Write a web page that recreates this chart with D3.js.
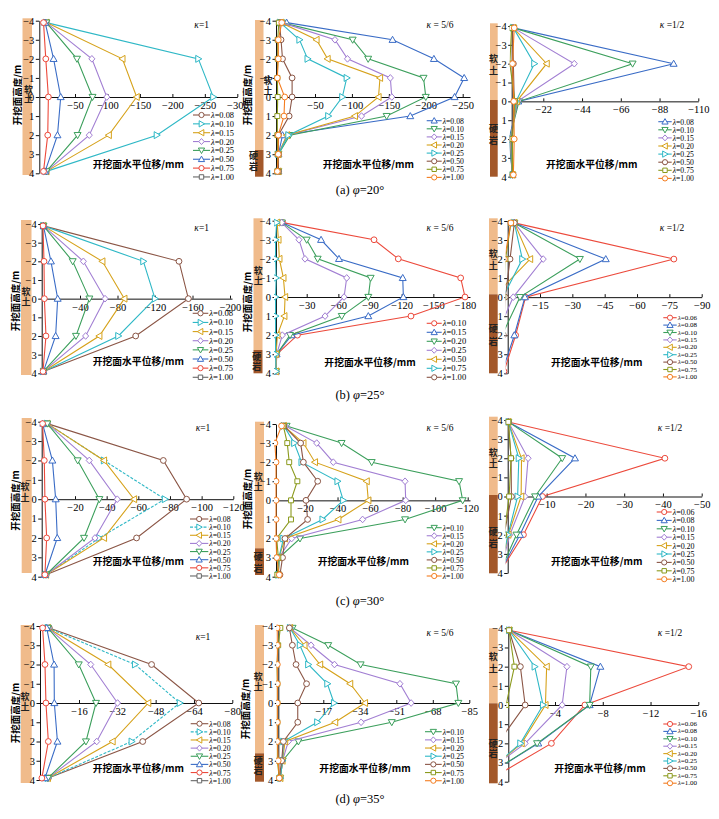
<!DOCTYPE html>
<html><head><meta charset="utf-8">
<script src="https://cdn.jsdelivr.net/npm/d3@7"></script>
<style>body{margin:0;background:#fff}</style>
</head><body><svg id="c" width="719" height="819"></svg>
<script>
// ---------- data ----------
const depth5 = [-3.9, -2, 0, 2, 3.9];
const depth9 = [-3.9, -3, -2, -1, 0, 1, 2, 3, 3.9];

const lamK1 = ["0.08","0.10","0.15","0.20","0.25","0.50","0.75","1.00"];
const lamA  = ["0.08","0.10","0.15","0.20","0.25","0.50","0.75","1.00"];
const lamB  = ["0.10","0.15","0.20","0.25","0.50","0.75","1.00"];
const lamC  = ["0.06","0.08","0.10","0.15","0.20","0.25","0.50","0.75","1.00"];

const xTicks20k1 = [-50,-100,-150,-200,-250,-300];
const xTicks20k56 = [-50,-100,-150,-200,-250];
const xTicks20k12 = [-22,-44,-66,-88,-110];
const xTicks25k1 = [-40,-80,-120,-160,-200];
const xTicks25k56 = [-30,-60,-90,-120,-150,-180];
const xTicks25k12 = [-15,-30,-45,-60,-75,-90];
const xTicks30k1 = [-20,-40,-60,-80,-100,-120];
const xTicks30k56 = [-20,-40,-60,-80,-100,-120];
const xTicks30k12 = [-10,-20,-30,-40,-50];
const xTicks35k1 = [-16,-32,-48,-64,-80];
const xTicks35k56 = [-17,-34,-51,-68,-85];
const xTicks35k12 = [-4,-8,-12,-16];

// φ=20°
const phi20k1 = [null,
  [-6,-240,-263,-176,-6],
  [-6,-123,-145,-102,-6],
  [-6,-76,-99,-72,-6],
  [-6,-53,-77,-54,-6],
  [-4,-17,-28,-23,-4],
  [-1.5,-5,-9,-8,-1.5],
  null];
const phi20k56 = [
  [-11.6,-155,-211,-252,-239,-179,-6,-0.5,-0.5],
  [-5,-101,-122,-197,-200,-147,-16,-0.5,-0.5],
  [-5,-77,-94,-152,-154,-113,-12,-0.5,-0.5],
  [-3.5,-52,-67,-138,-136,-104,-12,-0.5,-0.5],
  [-3,-29,-40,-93,-87,-68,-14,-0.5,-0.5],
  [-2,-4,-6,-19,-19,-15,-0.5,-0.5,-0.5],
  [-1,0.5,0.5,1,0.5,1,1,0.5,1],
  [-5,-0.3,-0.3,1,-9,-8,-0.3,-0.3,1]];
const phi20k12 = [
  [-5,-96,-7.8,-2.5,-4.5],
  [-5,-72.7,-8.2,-2.8,-4.5],
  [-5,-39.6,-7.4,-3.2,-4.5],
  [-5,-23.9,-6.9,-3.5,-4.5],
  [-5,-16.9,-6.5,-3.8,-4.5],
  [-4.5,-5,-5.5,-4.2,-4.5],
  [-4,-3,-5.9,-4.5,-4.5],
  [-5.5,-4.5,-5.2,-5.5,-5]];
// φ=25°
const phi25k1 = [
  [-1,-145.6,-155.6,-99.4,-1],
  [-1,-107.6,-120,-80.9,-1],
  [-1,-63.8,-87.3,-60.6,-1],
  [-1,-43.6,-66.7,-46,-1],
  [-1,-32.2,-50,-35.7,-1],
  [-1,-9,-16.2,-14,-1],
  [-0.5,-1.6,-2,-3.7,-0.5],
  null];
const phi25k56 = [
  [-7.3,-93.8,-116.8,-175.9,-180,-128.8,-21.2,-1.6,-1],
  [-6.5,-43.6,-60.6,-121,-121.6,-88.4,-15.8,-1.5,-1],
  [-6.5,-30,-40.4,-90.6,-88.4,-63.2,-14.2,-1.5,-1],
  [-6.3,-22.7,-28.4,-67.9,-65.4,-47.4,-6.9,-1.5,-1],
  [-2,-3.2,-4.1,-7.9,-9.5,-8.8,-2.2,-1,-1],
  [-1.5,-0.5,-0.5,-1,-0.5,-0.5,-0.5,-0.5,-1],
  null];
const phi25k12 = [
  [-3.1,-77.1,-8.3,-3.7,1.7],
  [-3.1,-45.5,-8,-3.1,2.5],
  [-3.1,-33.5,-5.7,2.6,5],
  [-3.1,-16.5,-2.6,5.3,8],
  [-3.1,-10.4,6.6,8,9],
  [-3.1,-6.8,2.2,4,5],
  [-3.1,-1.1,1.1,2,3],
  [-1.5,1,2,3,3],
  [-1.5,1.5,2.5,3,3]];
// φ=30°
const phi30k1 = [
  [-2.5,-75.8,-90.5,-58.9,-1.7],
  [-2.5,-38.3,-76.8,-35.4,-1.7],
  [-2.5,-38.3,-57.3,-38.3,-1.7],
  [-2.5,-29,-46.7,-32.6,-1.7],
  [-2.5,-21.7,-35.4,-25.7,-1.7],
  [0.5,-5.7,-7.8,-8.8,-1],
  [0.5,-0.6,-1,-2.1,-1],
  null];
const phi30k56 = [
  [-8.7,-42.5,-61,-114.7,-116.9,-81.5,-16.9,-4.2,-3.6],
  [-8,-27.2,-37.4,-81.5,-81.9,-55.4,-11.8,-4,-3.6],
  [-7,-19,-26.1,-57.9,-58.9,-40.5,-7.7,-4,-3.6],
  [-7,-13.4,-17.9,-40,-43.5,-30.8,-6.7,-4,-3.6],
  [-7,-17.3,-19,-27.8,-20.6,-21.6,-7.7,-6.2,-4.6],
  [-6.7,-9.1,-10.3,-15.3,-11.4,-11.4,-2.6,-3.6,-3],
  [-5.6,-1.5,-2.2,-2.2,-2.2,-2.2,-2.2,-2.6,-4.2]];
const phi30k12 = [
  [-0.1,-40.5,-8.9,-4,1.9],
  [-0.1,-17.3,-7.8,-3.1,1.9],
  [-0.1,-14,-7,-2.2,2],
  [-0.1,-5.2,-4.4,-0.5,2],
  [-0.1,-3.5,-3.4,-0.1,2],
  [-0.1,-2.8,-2.5,0,2],
  [-0.1,-0.8,-0.9,1,2],
  [-0.1,-0.8,-0.3,1,2],
  null];
// φ=35°
const phi35k1 = [
  [-3.6,-46.3,-66,-42.6,-3.2],
  [-3,-39.4,-58.1,-38,-3],
  [-3,-28.2,-44.9,-30,-3],
  [-3,-20.9,-32.1,-23.4,-3],
  [-3,-15.9,-23.1,-18.9,-3],
  [-2.5,-5.6,-5.7,-7,-1.8],
  [-0.8,-1.8,-2.2,-3.2,-0.5],
  null];
const phi35k56 = [
  [-2.7,-19.3,-34.4,-78.8,-79.9,-48.9,-5.4,1.9,3.1],
  [-1.5,-11.3,-22.2,-52.7,-57.9,-34.6,-0.7,2,3],
  [-1.5,-8.2,-15.5,-29.5,-36.4,-22.5,0.8,2,3],
  [-1.5,-6.1,-10,-18.9,-22,-14.2,1.6,2,3],
  [-1.2,-2.6,-4.3,-9.2,-5.1,-5.1,1.6,2.4,3.5],
  [3,4,4.7,4.4,4.4,4.4,4.4,4.4,3.5],
  [4.5,4.4,4.4,4.4,4.4,4.4,4.4,4,3.5]];
const phi35k12 = [
  [-0.15,-15.2,-6.5,-3.7,1.5],
  [-0.15,-7.8,-6.9,-2.6,2.3],
  [-0.15,-7,-6.9,-2.5,2.3],
  [-0.15,-5,-4.6,-1.5,2.6],
  [-0.15,-3.3,-3.2,-1.2,2.4],
  [-0.15,-2.3,-3,-1.1,2.4],
  [-0.15,-1.1,-1.5,0.8,1.5],
  [-0.15,-0.6,0.1,0.8,1],
  null];

const captions = [["(a) ","20°"],["(b) ","25°"],["(c) ","30°"],["(d) ","35°"]];

// ---------- styles ----------
const C = {brown:"#8b5646", cyan:"#2fb8c6", gold:"#d6a21b", purple:"#a27fd3", green:"#3c9f5c",
           blue:"#3a6cc6", red:"#ec4a3c", gray:"#666666", olive:"#8b9a1d", orange:"#f47d20"};
const styK1 = [["brown","circle"],["cyan","right"],["gold","left"],["purple","diamond"],["green","down"],["blue","up"],["red","circle"],["gray","square"]];
const styA  = [["blue","up"],["green","down"],["purple","diamond"],["gold","left"],["cyan","right"],["brown","circle"],["olive","square"],["orange","circle"]];
const styB1 = [["red","circle"],["blue","up"],["green","down"],["purple","diamond"],["gold","left"],["cyan","right"],["brown","circle"]];
const styB2 = [["green","down"],["purple","diamond"],["gold","left"],["cyan","right"],["brown","circle"],["olive","square"],["orange","circle"]];
const styC  = [["red","circle"],["blue","up"],["green","down"],["purple","diamond"],["gold","left"],["cyan","right"],["brown","circle"],["olive","square"],["orange","circle"]];

const TAN = "#f0bb8b", ROCK = "#a3582a";
const SERIF = "'Liberation Serif','Times New Roman',serif";
const CJK = "'Noto Sans CJK SC','Noto Sans',sans-serif";

const panels = [
 {vals:phi20k1, lam:lamK1, sty:styK1, depth:depth5, ax:39.3, xa:[-50,75], xb:[-300,237.3], xe:237.3, ticks:xTicks20k1, yA:20.7, yB:173.3,
  bar:[22.5,9.5,18.3,null,175], kap:"=1", kx:201.7, ky:25, leg:[193,115,8.85,17], xt:[138.3,164], yt:[16.7,95], soft:[28.5,89,98.5], hard:null},
 {vals:phi20k56, lam:lamA, sty:styA, depth:depth9, ax:276, xa:[-50,315], xb:[-250,462.7], xe:470, ticks:xTicks20k56, yA:20.7, yB:173.3,
  bar:[255,8.5,20,150,176.7], kap:" = 5/6", kx:440, ky:25, leg:[426.7,120.7,8.1,15], xt:[368.3,164], yt:[246.7,95], soft:[268,80,90], hard:[253.5,155,166.7]},
 {vals:phi20k12, lam:lamA, sty:styA, depth:depth5, ax:511.7, xa:[-22,543.3], xb:[-110,698.3], xe:698.3, ticks:xTicks20k12, yA:26, yB:176.7,
  bar:[490,7.7,23.3,100,176.7], kap:" =1/2", kx:672, ky:25, leg:[658.3,121.7,8.1,13.4], xt:[591.7,164], yt:null, soft:[493.5,58.3,70], hard:[493.5,128.3,140]},
 {vals:phi25k1, lam:lamK1, sty:styK1, depth:depth5, ax:41.7, xa:[-40,80], xb:[-200,230], xe:232, ticks:xTicks25k1, yA:224, yB:373.3,
  bar:[21,10.5,220,null,375], kap:"=1", kx:201.7, ky:228.3, leg:[192.7,313.3,9.14,15.6], xt:[138.3,361], yt:[15,301], soft:[26,291,301.5], hard:null},
 {vals:phi25k56, lam:lamB, sty:styB1, depth:depth9, ax:276, xa:[-30,306.7], xb:[-180,465], xe:470, ticks:xTicks25k56, yA:220.7, yB:373.3,
  bar:[253.5,9,218.3,350,373.3], kap:" = 5/6", kx:440, ky:228, leg:[426.7,323.3,9,15], xt:[370,361.7], yt:[246.7,302], soft:[258.3,270,280], hard:[256.7,356.7,366.7]},
 {vals:phi25k12, lam:lamC, sty:styC, depth:depth5, ax:507.7, xa:[-15,540], xb:[-90,701.7], xe:701.7, ticks:xTicks25k12, yA:221, yB:373.3,
  bar:[489,8.7,218.3,294.3,373.3], kap:" =1/2", kx:672, ky:228, leg:[663.3,317.7,7.4,13.4], xt:[596.7,361.7], yt:null, soft:[493.3,253.3,265], hard:[493.3,328.3,341.7]},
 {vals:phi30k1, lam:lamK1, sty:styK1, depth:depth5, ax:41.7, xa:[-20,75], xb:[-120,233.3], xe:233.3, ticks:xTicks30k1, yA:421.7, yB:576.7,
  bar:[21.7,10,418,null,573], kap:"=1", kx:203, ky:428.3, leg:[190,519,8.14,18.3], xt:[138.3,560.7], yt:[15,500.5], soft:[25,486.7,497], hard:null, dashCyan:true},
 {vals:phi30k56, lam:lamB, sty:styB2, depth:depth9, ax:276, xa:[-20,305], xb:[-120,467.7], xe:470, ticks:xTicks30k56, yA:424, yB:576.7,
  bar:[255,9,421.7,548.3,575], kap:" = 5/6", kx:440, ky:428, leg:[426.7,527.7,8.05,15], xt:[363.3,560.7], yt:[246.7,499], soft:[258.3,476.7,486.7], hard:[258.3,556.7,568.3]},
 {vals:phi30k12, lam:lamC, sty:styC, depth:depth5, ax:507.7, xa:[-10,546.7], xb:[-50,701.7], xe:701.7, ticks:xTicks30k12, yA:420, yB:573,
  bar:[489,8.7,416.7,495,573.3], kap:" =1/2", kx:670, ky:428, leg:[656.7,512,8.4,15], xt:[596.7,560.7], yt:null, soft:[493.3,452.7,463.3], hard:[493.3,531.7,543.3]},
 {vals:phi35k1, lam:lamK1, sty:styK1, depth:depth5, ax:40, xa:[-16,79], xb:[-80,232.3], xe:232.3, ticks:xTicks35k1, yA:626, yB:780,
  bar:[20.7,11,625,null,783], kap:"=1", kx:203, ky:636.7, leg:[190.7,723.7,8.14,17.6], xt:[138.3,768.3], yt:[15,713], soft:[25,696.7,706.7], hard:null, dashCyan:true},
 {vals:phi35k56, lam:lamB, sty:styB2, depth:depth9, ax:278.3, xa:[-17,323.3], xb:[-85,469.3], xe:469.3, ticks:xTicks35k56, yA:626, yB:780,
  bar:[255,9,625,753.3,781.7], kap:" = 5/6", kx:440, ky:633, leg:[425,731.7,8.17,16.7], xt:[365,768.3], yt:[245,709], soft:[258.3,676.7,686.7], hard:[258.3,760,770]},
 {vals:phi35k12, lam:lamC, sty:styC, depth:depth5, ax:508.3, xa:[-4,555], xb:[-16,698.3], xe:698.3, ticks:xTicks35k12, yA:628.3, yB:781.7,
  bar:[489,8.7,628.3,703.3,783.3], kap:" =1/2", kx:670, ky:633, leg:[663.3,724,7.4,13.4], xt:[600,768.3], yt:null, soft:[493.3,656.7,668.3], hard:[493.3,743.3,753.3]}
];

// ---------- drawing ----------
const svg = d3.select("#c");

function markerPath(type, s) {
  const p = d3.path();
  if (type === "circle") { p.moveTo(s, 0); p.arc(0, 0, s, 0, 2*Math.PI); }
  else if (type === "square") { p.rect(-s*0.85, -s*0.85, s*1.7, s*1.7); }
  else if (type === "diamond") { p.moveTo(0,-s*1.15); p.lineTo(s*1.05,0); p.lineTo(0,s*1.15); p.lineTo(-s*1.05,0); p.closePath(); }
  else {
    const t = s*1.2;
    const pts = {up:[[0,-t],[t,t*0.75],[-t,t*0.75]], down:[[0,t],[t,-t*0.75],[-t,-t*0.75]],
                 left:[[-t,0],[t*0.75,-t],[t*0.75,t]], right:[[t,0],[-t*0.75,-t],[-t*0.75,t]]}[type];
    p.moveTo(pts[0][0],pts[0][1]); p.lineTo(pts[1][0],pts[1][1]); p.lineTo(pts[2][0],pts[2][1]); p.closePath();
  }
  return p.toString();
}

panels.forEach((p, pi) => {
  const g = svg.append("g");
  const xr = d3.scaleLinear().domain([p.xa[0], p.xb[0]]).range([p.xa[1], p.xb[1]]);
  const x = d3.scaleLinear().domain([xr.invert(p.ax), xr.invert(p.xe)]).range([p.ax, p.xe]);
  const y = d3.scaleLinear().domain([-4, 4]).range([p.yA, p.yB]);

  // y title
  if (p.yt) {
    g.append("text").attr("transform", `translate(${p.yt[0]},${p.yt[1]}) rotate(-90)`)
      .attr("text-anchor","middle").attr("dominant-baseline","central")
      .attr("font-family", CJK).attr("font-size", 9.5).attr("font-weight", 600).text("开挖面高度/m");
  }
  // soil bar
  const [bx, bw, b0, bs, b1] = p.bar;
  g.append("rect").attr("x", bx).attr("width", bw).attr("y", b0).attr("height", (bs ?? b1) - b0).attr("fill", TAN);
  if (bs) g.append("rect").attr("x", bx).attr("width", bw).attr("y", bs).attr("height", b1 - bs).attr("fill", ROCK);
  const chars = (arr, txt) => {
    if (!arr) return;
    [0,1].forEach(k => g.append("text").attr("x", arr[0]).attr("y", arr[1+k]).attr("text-anchor","middle")
      .attr("dominant-baseline","central").attr("font-family", CJK).attr("font-size", 9).attr("font-weight", 600)
      .attr("fill", "#222").text(txt[k]));
  };
  chars(p.soft, "软土");
  chars(p.hard, "硬岩");

  // axes
  const xa = g.append("g").attr("transform", `translate(0,${y(0)})`)
    .call(d3.axisBottom(x).tickValues(p.ticks).tickSizeInner(-3).tickSizeOuter(0).tickPadding(4.5));
  const ya = g.append("g").attr("transform", `translate(${p.ax},0)`)
    .call(d3.axisLeft(y).tickValues(d3.range(-4, 5)).tickSizeInner(3.5).tickSizeOuter(0).tickPadding(1.5).tickFormat(d3.format("d")));
  [xa, ya].forEach(a => {
    a.attr("font-family", SERIF).attr("font-size", 10.5);
    a.selectAll("path,line").attr("stroke", "#111").attr("stroke-width", 1);
  });

  // clip
  const cid = "clip" + pi;
  g.append("clipPath").attr("id", cid).append("rect")
    .attr("x", p.ax - 2).attr("y", p.yA - 8).attr("width", p.xe - p.ax + 14).attr("height", p.yB - p.yA + 16);
  const plot = g.append("g").attr("clip-path", `url(#${cid})`);

  const line = d3.line().x(d => x(d[1])).y(d => y(d[0]));
  p.vals.forEach((vals, si) => {
    if (!vals) return;
    const [cn, mk] = p.sty[si];
    const col = C[cn];
    const pts = p.depth.map((dd, k) => [dd, vals[k]]);
    plot.append("path").attr("d", line(pts)).attr("fill", "none").attr("stroke", col).attr("stroke-width", 1.1)
      .attr("stroke-dasharray", (p.dashCyan && cn === "cyan") ? "3,1.5" : null);
    plot.selectAll(null).data(pts).enter().append("path")
      .attr("transform", d => `translate(${x(d[1])},${y(d[0])})`)
      .attr("d", markerPath(mk, 2.9)).attr("fill", "#fff").attr("stroke", col).attr("stroke-width", 1);
  });

  // kappa label
  const kt = g.append("text").attr("x", p.kx).attr("y", p.ky).attr("text-anchor","middle").attr("dominant-baseline","central")
    .attr("font-family", SERIF).attr("font-size", 9.5);
  kt.append("tspan").attr("font-style","italic").text("κ");
  kt.append("tspan").text(p.kap);

  // legend
  const [lx, ly, ldy, llen] = p.leg;
  const fs = Math.min(9.2, ldy * 0.95);
  p.lam.forEach((lv, si) => {
    const [cn, mk] = p.sty[si];
    const col = C[cn];
    const yy = ly + si * ldy;
    g.append("line").attr("x1", lx).attr("x2", lx + llen).attr("y1", yy).attr("y2", yy).attr("stroke", col).attr("stroke-width", 1.1)
      .attr("stroke-dasharray", (p.dashCyan && cn === "cyan") ? "3,1.5" : null);
    g.append("path").attr("transform", `translate(${lx + llen/2},${yy})`).attr("d", markerPath(mk, 2.6))
      .attr("fill", "#fff").attr("stroke", col).attr("stroke-width", 1);
    const t = g.append("text").attr("x", lx + llen + 1).attr("y", yy).attr("dominant-baseline","central")
      .attr("font-family", SERIF).attr("font-size", fs);
    t.append("tspan").attr("font-style","italic").text("λ");
    t.append("tspan").text("=" + lv);
  });

  // x title
  g.append("text").attr("x", p.xt[0]).attr("y", p.xt[1]).attr("text-anchor","middle").attr("dominant-baseline","central")
    .attr("font-family", CJK).attr("font-size", 9.8).attr("font-weight", 600).text("开挖面水平位移/mm");
});

// captions
const capY = [190, 395, 601, 799];
captions.forEach((c, i) => {
  const t = svg.append("text").attr("x", 360).attr("y", capY[i]).attr("text-anchor","middle").attr("dominant-baseline","central")
    .attr("font-family", SERIF).attr("font-size", 12.5);
  t.append("tspan").text(c[0]);
  t.append("tspan").attr("font-style","italic").text("φ");
  t.append("tspan").text("=" + c[1]);
});
</script></body></html>
